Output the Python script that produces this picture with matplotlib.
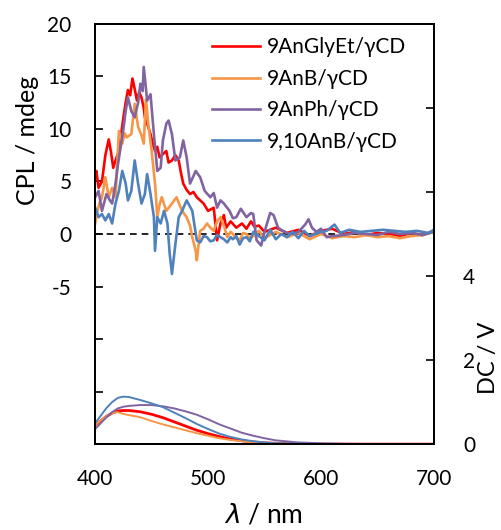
import matplotlib
matplotlib.use("Agg")
import matplotlib.pyplot as plt

plt.rcParams["font.family"] = ["Lato", "DejaVu Sans"]

# CPL spectra (mdeg)
red_wl = [400, 401, 403, 406, 409, 412, 414, 416, 418, 421, 423, 425, 427, 429, 431, 433,
          435, 437, 439, 441, 443, 444, 447, 449, 451, 453, 455, 457, 460, 463, 465, 468,
          471, 474, 476, 478, 481, 484, 487, 490, 493, 496, 500, 505, 508, 511, 514, 516,
          520, 525, 530, 534, 538, 541]
red_cpl = [5.7, 6.0, 4.4, 5.0, 7.5, 9.0, 7.8, 6.3, 7.0, 7.9, 9.5, 11.1, 12.5, 13.7, 13.2, 14.8,
           13.8, 12.7, 13.5, 13.0, 12.0, 11.1, 10.2, 9.5, 8.6, 7.9, 8.3, 7.3, 7.6, 7.9, 6.8, 7.0,
           7.5, 7.0, 5.8, 4.8, 4.2, 3.8, 4.0, 3.5, 3.2, 2.9, 2.2, 2.5, -0.6, 1.0, 1.8, 0.6,
           1.2, 0.6, 1.0, 0.5, 1.2, 0.7]

orange_wl = [400, 402, 404, 406, 409, 412, 415, 418, 421, 424, 426, 428, 432, 435, 438, 441,
             443, 445, 447, 450, 453, 455, 457, 459, 463, 468, 472, 477, 481, 484, 486, 489,
             490, 493, 496, 499, 502, 505, 508, 511, 514, 517, 520, 522, 525, 528, 531, 534,
             537, 540]
orange_cpl = [1.0, 2.2, 3.0, 3.5, 5.4, 3.5, 4.4, 3.5, 9.8, 8.6, 9.6, 9.2, 9.5, 12.4, 10.2, 9.4,
              8.6, 12.8, 10.5, 7.9, 4.8, 1.6, 2.8, 3.5, 2.2, 2.9, 3.5, 2.2, 1.6, 0.8, -0.3, -1.6,
              -2.5, 0.3, 0.5, 1.0, 0.6, 0.3, 1.2, 1.6, 0.8, -0.3, 0.2, 0.0, -0.4, -0.6, 0.1, 0.0,
              -0.4, -0.2]

purple_wl = [400, 403, 406, 408, 410, 413, 415, 418, 420, 422, 425, 427, 429, 432, 435, 438,
             440, 442, 443, 445, 446, 449, 452, 455, 458, 460, 463, 465, 468, 471, 475, 478,
             481, 484, 487, 489, 493, 497, 502, 505, 508, 511, 514, 519, 522, 525, 529, 534,
             538, 540]
purple_cpl = [3.5, 4.1, 2.2, 3.0, 3.8, 3.2, 2.9, 4.8, 6.5, 7.9, 10.0, 11.7, 13.0, 11.7, 11.1, 12.5,
              14.3, 13.6, 15.9, 13.8, 12.7, 13.3, 9.5, 6.0, 6.3, 8.9, 10.5, 10.8, 9.5, 7.0, 7.3, 8.9,
              7.3, 4.8, 5.5, 6.0, 5.4, 4.1, 3.5, 3.9, 2.5, 3.2, 2.9, 2.2, 1.5, 1.6, 2.4, 1.6,
              2.0, 1.9]

blue_wl = [400, 403, 406, 409, 412, 415, 418, 421, 424, 427, 429, 432, 435, 438, 441, 444,
           446, 449, 452, 453, 455, 458, 461, 464, 466, 468, 471, 474, 477, 481, 486, 490,
           493, 496, 499, 502, 505, 508, 511, 514, 517, 520, 522, 525, 528, 531, 534, 537,
           540]
blue_cpl = [2.5, 1.6, 1.9, 1.3, 1.9, 1.0, 2.9, 4.1, 6.0, 4.8, 3.2, 4.1, 7.0, 4.8, 2.9, 3.8,
            5.7, 3.8, 1.6, -1.6, 1.6, 1.0, 2.2, 1.0, -1.9, -3.8, -1.0, 1.6, 2.2, 3.2, 2.2, -0.6,
            -0.8, -0.2, -0.3, -0.7, -0.6, -0.1, -0.3, -0.5, -0.8, -0.3, -0.5, -0.2, -1.0, -0.4, -0.3, -0.7,
            0.2]

# long-wavelength tails (mdeg)
red_tail_wl = [545, 550, 560, 570, 580, 590, 600, 610, 620, 630, 640, 650, 660, 670, 680, 690, 700]
red_tail = [0.8, 0.2, 0.6, 0.1, 0.4, -0.2, 0.3, 0.5, 0.0, 0.2, -0.1, 0.1, 0.0, -0.2, 0.1, -0.1, 0.3]
orange_tail_wl = [545, 550, 560, 570, 580, 590, 600, 610, 620, 630, 640, 650, 660, 670, 680, 690, 700]
orange_tail = [0.3, -0.4, 0.2, -0.3, 0.1, -0.5, 0.0, -0.4, -0.2, -0.3, -0.1, -0.3, -0.2, -0.4, -0.2, -0.1, 0.2]
purple_tail_wl = [543, 547, 550, 555, 558, 562, 566, 570, 575, 580, 586, 589, 592, 596, 600, 605,
                  610, 620, 630, 640, 650, 660, 670, 680, 690, 700]
purple_tail = [-0.6, -1.1, 0.2, 2.0, 1.8, 0.6, 0.3, 0.1, 0.0, 0.2, 0.9, 1.4, 0.6, 0.2, 0.5, -0.3,
               -0.2, -0.1, 0.1, 0.0, -0.1, 0.2, 0.0, 0.1, -0.1, 0.2]
blue_tail_wl = [545, 550, 555, 560, 565, 570, 575, 580, 585, 590, 600, 605, 612, 617, 625, 635,
                645, 655, 665, 675, 685, 695, 700]
blue_tail = [-0.2, -0.6, 0.4, -0.5, 0.0, -0.3, 0.2, -0.4, 0.3, -0.2, 0.2, 0.3, 0.9, 0.1, 0.4, 0.2,
             0.3, 0.4, 0.3, 0.2, 0.3, 0.1, 0.4]

# DC voltage (V)
dc_wl = [400, 405, 410, 415, 420, 425, 430, 440, 450, 460, 470, 480, 490, 500, 510, 520,
         530, 540, 550, 560, 580, 600, 620, 650, 700]
red_dc = [0.45, 0.56, 0.66, 0.74, 0.79, 0.80, 0.80, 0.77, 0.71, 0.63, 0.53, 0.43, 0.33, 0.25, 0.18, 0.12,
          0.08, 0.05, 0.03, 0.02, 0.01, 0.0, 0.0, 0.0, 0.0]
orange_dc = [0.45, 0.57, 0.67, 0.74, 0.76, 0.72, 0.69, 0.64, 0.55, 0.47, 0.40, 0.33, 0.26, 0.20, 0.14, 0.10,
             0.07, 0.04, 0.03, 0.02, 0.01, 0.0, 0.0, 0.0, 0.0]
purple_dc = [0.36, 0.50, 0.64, 0.76, 0.85, 0.89, 0.91, 0.93, 0.93, 0.90, 0.85, 0.78, 0.70, 0.59, 0.47, 0.37,
             0.27, 0.20, 0.14, 0.09, 0.04, 0.02, 0.01, 0.0, 0.0]
blue_dc = [0.50, 0.68, 0.86, 1.00, 1.10, 1.13, 1.12, 1.05, 0.97, 0.88, 0.75, 0.62, 0.48, 0.36, 0.25, 0.17,
           0.11, 0.07, 0.04, 0.02, 0.01, 0.0, 0.0, 0.0, 0.0]

labels = ["9AnGlyEt/γCD", "9AnB/γCD", "9AnPh/γCD", "9,10AnB/γCD"]
colors = ["#FF0000", "#F79646", "#8064A2", "#4F81BD"]

series = [
    (red_wl + red_tail_wl, red_cpl + red_tail, red_dc),
    (orange_wl + orange_tail_wl, orange_cpl + orange_tail, orange_dc),
    (purple_wl + purple_tail_wl, purple_cpl + purple_tail, purple_dc),
    (blue_wl + blue_tail_wl, blue_cpl + blue_tail, blue_dc),
]

fig = plt.figure(figsize=(5.01, 5.30), dpi=100)
ax = fig.add_axes([0.19, 0.162, 0.676, 0.793])
ax2 = ax.twinx()

ax.axhline(0, color="black", ls=(0, (4, 3)), lw=1.2, zorder=1)

for (wl, cpl, dc), lab, col in zip(series, labels, colors):
    ax.plot(wl, cpl, color=col, lw=1.9, label=lab, zorder=2)
    ax2.plot(dc_wl, dc, color=col, lw=2.0 if col == "#FF0000" else 1.4)

ax.set_xlim(400, 700)
ax.set_ylim(-20, 20)
ax.set_xticks([400, 500, 600, 700])
ax.set_yticks([-20, -15, -10, -5, 0, 5, 10, 15, 20])
ax.set_yticklabels(["", "", "", "-5", "0", "5", "10", "15", "20"])
ax.tick_params(axis="y", direction="in", length=6, width=1.2, pad=17, labelsize=15)
ax.tick_params(axis="x", length=0, pad=18, labelsize=15)

ax2.set_ylim(0, 10)
ax2.set_yticks([0, 2, 4, 6, 8, 10])
ax2.set_yticklabels(["0", "2", "4", "", "", ""])
ax2.tick_params(axis="y", direction="in", length=6, width=1.2, pad=21, labelsize=15)

for a in (ax, ax2):
    for s in a.spines.values():
        s.set_linewidth(1.4)

fig.text(0.054, 1 - 140 / 530, "CPL / mdeg", rotation=90, ha="center", va="center", fontsize=18)
fig.text(0.975, 1 - 358 / 530, "DC / V", rotation=90, ha="center", va="center", fontsize=17)
fig.text(0.525, 1 - 515 / 530, r"$\lambda$ / nm", ha="center", va="center", fontsize=19)

ax.legend(loc="upper left", bbox_to_anchor=(0.305, 1.0), frameon=False, fontsize=15,
          handlelength=2.3, handletextpad=0.35, labelspacing=0.55, borderaxespad=0.25)

fig.savefig("out.png", dpi=100)
